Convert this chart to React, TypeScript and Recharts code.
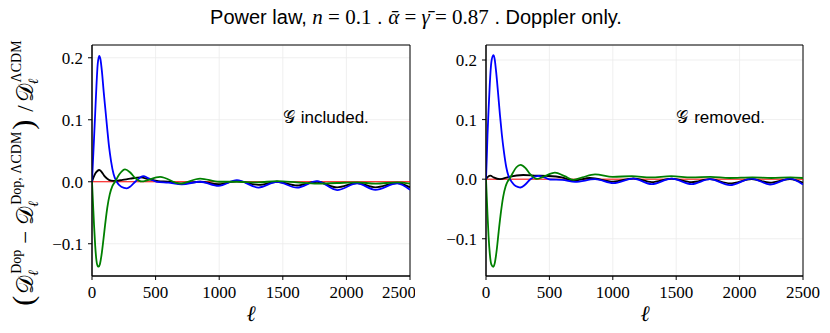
import { LineChart, Line, XAxis, YAxis, CartesianGrid, ReferenceArea, ReferenceDot } from 'recharts'

type Pt = [number, number]

const xTicks = [0, 500, 1000, 1500, 2000, 2500]
const yTicks = [-0.1, 0, 0.1, 0.2]
const zeroLine: Pt[] = [[0, 0], [2500, 0]]

// left panel: G included
const leftBlack: Pt[] = [
  [0, 0], [12, 0.007], [25, 0.013], [40, 0.017], [58, 0.019], [75, 0.016], [95, 0.01], [120, 0.005],
  [150, 0.002], [185, 0.0015], [240, 0.003], [300, 0.005], [380, 0.007], [450, 0.004], [520, 0.001],
  [600, 0], [706, -0.003], [850, 0], [995, -0.004], [1139, 0.001], [1310, -0.005], [1454, 0],
  [1612, -0.006], [1769, 0], [1927, -0.009], [2084, -0.002], [2228, -0.009], [2399, -0.002], [2500, -0.009],
]
const leftBlue: Pt[] = [
  [0, 0], [8, 0.035], [16, 0.07], [25, 0.11], [35, 0.155], [45, 0.19], [57, 0.203], [66, 0.198],
  [78, 0.178], [92, 0.145], [106, 0.115], [120, 0.085], [135, 0.055], [150, 0.033], [170, 0.012],
  [194, 0], [230, -0.008], [273, -0.0105], [305, -0.007], [340, 0], [404, 0.009], [440, 0.006],
  [509, 0], [600, -0.0015], [706, -0.004], [850, 0], [995, -0.0065], [1139, 0.0025], [1310, -0.0093],
  [1454, 0], [1612, -0.0095], [1769, 0.001], [1927, -0.0134], [2084, -0.0027], [2228, -0.013],
  [2399, -0.0025], [2500, -0.013],
]
const leftGreen: Pt[] = [
  [0, 0], [8, -0.035], [16, -0.07], [25, -0.103], [35, -0.127], [45, -0.136], [53, -0.137], [62, -0.133],
  [75, -0.118], [90, -0.093], [105, -0.066], [120, -0.042], [140, -0.02], [160, -0.007], [181, 0],
  [215, 0.012], [260, 0.02], [300, 0.015], [340, 0.006], [390, 0.0005], [535, 0.008], [693, -0.003],
  [850, 0.005], [1000, 0], [1139, 0], [1300, -0.001], [1454, 0.001], [1612, -0.001], [1769, -0.003],
  [1927, -0.002], [2084, -0.001], [2228, -0.003], [2399, -0.001], [2500, -0.003],
]

// right panel: G removed
const rightBlack: Pt[] = [
  [0, 0], [15, 0.004], [35, 0.006], [60, 0.003], [110, 0], [180, 0.004], [294, 0.007], [400, 0.006],
  [478, 0.0055], [597, 0.003], [689, -0.0025], [820, 0.002], [1004, -0.004], [1162, 0.0015],
  [1307, -0.005], [1464, 0.001], [1622, -0.005], [1766, 0], [1924, -0.007], [2095, 0], [2240, -0.006],
  [2397, 0], [2500, -0.006],
]
const rightBlue: Pt[] = [
  [0, 0], [6, 0.035], [12, 0.075], [20, 0.115], [30, 0.16], [42, 0.196], [58, 0.208], [68, 0.202],
  [80, 0.18], [95, 0.145], [110, 0.108], [125, 0.075], [142, 0.045], [160, 0.02], [175, 0.007], [189, 0],
  [220, -0.009], [250, -0.013], [273, -0.014], [310, -0.009], [350, 0], [413, 0.0055], [460, 0.003],
  [505, -0.0005], [600, -0.001], [702, -0.0045], [860, 0], [1004, -0.0067], [1162, 0.001], [1307, -0.0083],
  [1464, 0.001], [1622, -0.0083], [1766, 0], [1924, -0.01], [2095, 0.001], [2240, -0.009], [2397, 0.001],
  [2500, -0.009],
]
const rightGreen: Pt[] = [
  [0, 0], [6, -0.03], [12, -0.06], [20, -0.095], [30, -0.125], [42, -0.143], [58, -0.147], [70, -0.14],
  [85, -0.118], [100, -0.088], [118, -0.055], [135, -0.03], [155, -0.012], [170, -0.004], [184, 0],
  [210, 0.01], [240, 0.02], [273, 0.024], [310, 0.019], [350, 0.008], [400, 0.0005], [440, 0.003],
  [544, 0.011], [620, 0.005], [690, -0.001], [760, 0.003], [860, 0.008], [1000, 0.004], [1150, 0.005],
  [1300, 0.003], [1460, 0.005], [1620, 0.003], [1770, 0.004], [1920, 0.002], [2100, 0.003], [2250, 0.002],
  [2400, 0.003], [2500, 0.002],
]

const SERIF = 'Liberation Serif'
const SANS = 'Liberation Sans'

const toRows = (pts: Pt[]) => pts.map(([l, v]) => ({ l, v }))
const fmtY = (v: number) => (v < 0 ? '\u2212' + Math.abs(v).toFixed(1) : v.toFixed(1))

const XTick = ({ x, y, payload }: any) => (
  <text x={x} y={y + 12} textAnchor="middle" fontFamily={SERIF} fontSize={17} fill="#000">
    {payload.value}
  </text>
)

const YTick = ({ x, y, payload }: any) => (
  <text x={x} y={y + 6} textAnchor="end" fontFamily={SERIF} fontSize={17} fill="#000">
    {fmtY(payload.value)}
  </text>
)

interface PanelProps {
  black: Pt[]
  blue: Pt[]
  green: Pt[]
  yDomain: [number, number]
  yAxisWidth: number
  marginRight: number
  note: string
}

const Panel = ({ black, blue, green, yDomain, yAxisWidth, marginRight, note }: PanelProps) => (
  <LineChart width={415} height={333} margin={{ top: 45, right: marginRight, bottom: 7, left: 0 }}>
    <CartesianGrid stroke="#ebebeb" strokeWidth={0.8} />
    <XAxis
      type="number"
      dataKey="l"
      domain={[0, 2500]}
      ticks={xTicks}
      height={50}
      tickSize={4}
      tickMargin={6}
      stroke="#000"
      tick={<XTick />}
      allowDataOverflow
    />
    <YAxis
      type="number"
      domain={yDomain}
      ticks={yTicks}
      width={yAxisWidth}
      tickSize={4}
      tickMargin={5}
      stroke="#000"
      tick={<YTick />}
      allowDataOverflow
    />
    <Line data={toRows(zeroLine)} dataKey="v" stroke="#ff0000" strokeWidth={1} dot={false} isAnimationActive={false} />
    <Line data={toRows(black)} dataKey="v" type="monotone" stroke="#000" strokeWidth={1.8} dot={false} isAnimationActive={false} />
    <Line data={toRows(blue)} dataKey="v" type="monotone" stroke="#0000ff" strokeWidth={1.8} dot={false} isAnimationActive={false} />
    <Line data={toRows(green)} dataKey="v" type="monotone" stroke="#008000" strokeWidth={1.8} dot={false} isAnimationActive={false} />
    <ReferenceArea x1={0} x2={2500} y1={yDomain[0]} y2={yDomain[1]} fill="none" stroke="#000" strokeWidth={1} />
    <ReferenceDot
      x={1500}
      y={0.1}
      r={0}
      shape={(p: any) => (
        <text x={p.cx} y={p.cy + 3} fontFamily={SANS} fontSize={17} fill="#000">
          <tspan fontFamily={SERIF}>𝒢</tspan>
          <tspan dx={6}>{note}</tspan>
        </text>
      )}
    />
  </LineChart>
)

export default function App() {
  return (
    <div style={{ position: 'absolute', left: 0, top: 0, width: 830, height: 333, background: '#fff' }}>
      <div
        style={{
          position: 'absolute', left: 0, top: 5, width: 832, textAlign: 'center',
          fontFamily: SANS, fontSize: 20, lineHeight: '24px', color: '#000',
        }}
      >
        <span>Power law, </span>
        <span style={{ fontFamily: SERIF, fontSize: 21 }}>
          <i>n</i> = 0.1
        </span>
        <span> . </span>
        <span style={{ fontFamily: SERIF, fontSize: 21 }}>
          <i>α{'\u0304'}</i> = <i>γ{'\u0304'}</i> = 0.87
        </span>
        <span> . Doppler only.</span>
      </div>
      <div style={{ position: 'absolute', left: 0, top: 0 }}>
        <Panel black={leftBlack} blue={leftBlue} green={leftGreen} yDomain={[-0.152, 0.2206]}
          yAxisWidth={92} marginRight={5} note="included." />
      </div>
      <div style={{ position: 'absolute', left: 415, top: 0 }}>
        <Panel black={rightBlack} blue={rightBlue} green={rightGreen} yDomain={[-0.1625, 0.2252]}
          yAxisWidth={71} marginRight={27} note="removed." />
      </div>
      <svg width={830} height={333} style={{ position: 'absolute', left: 0, top: 0, pointerEvents: 'none' }}>
        <text transform="translate(33,173) rotate(-90)" textAnchor="middle" fontFamily={SERIF} fontSize={23} fill="#000">
          <tspan fontSize={30}>(</tspan>
          <tspan dx={2}>𝒟</tspan>
          <tspan fontSize={14} dy={5} fontStyle="italic">ℓ</tspan>
          <tspan fontSize={14} dx={-4} dy={-17}>Dop</tspan>
          <tspan dx={6} dy={12}>−</tspan>
          <tspan dx={6}>𝒟</tspan>
          <tspan fontSize={14} dy={5} fontStyle="italic">ℓ</tspan>
          <tspan fontSize={14} dx={-4} dy={-17}>Dop, ΛCDM</tspan>
          <tspan fontSize={30} dx={2} dy={12}>)</tspan>
          <tspan dx={8}>/</tspan>
          <tspan dx={3}>𝒟</tspan>
          <tspan fontSize={14} dy={5} fontStyle="italic">ℓ</tspan>
          <tspan fontSize={14} dx={-4} dy={-17}>ΛCDM</tspan>
        </text>
        <text x={251} y={321} textAnchor="middle" fontFamily={SERIF} fontStyle="italic" fontSize={22} fill="#000">ℓ</text>
        <text x={645} y={321} textAnchor="middle" fontFamily={SERIF} fontStyle="italic" fontSize={22} fill="#000">ℓ</text>
      </svg>
    </div>
  )
}
